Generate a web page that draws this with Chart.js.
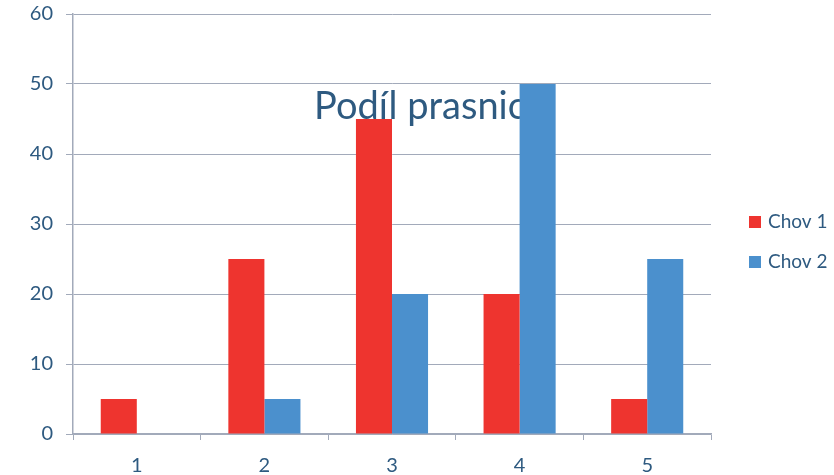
<!DOCTYPE html>
<html>
<head>
<meta charset="utf-8">
<script src="https://cdn.jsdelivr.net/npm/chart.js@4"></script>
<style>
html,body{margin:0;padding:0;background:#fff;}
#wrap{width:834px;height:475px;position:relative;}
</style>
</head>
<body>
<div id="wrap"><canvas id="c" width="834" height="475"></canvas></div>
<script>
const categories = ['1', '2', '3', '4', '5'];
const chov1 = [5, 25, 45, 20, 5];
const chov2 = [0, 5, 20, 50, 25];
const seriesNames = ['Chov 1', 'Chov 2'];
const titleText = 'Podíl prasnic';

const TEXT = '#2E5A80';
const GRID = '#A2AABA';
const RED = '#EE342F';
const BLUE = '#4B90CD';
const FONT = 'Lato';

const bgTitle = {
  id: 'bgTitle',
  beforeDatasetsDraw(chart) {
    const ctx = chart.ctx;
    ctx.save();
    ctx.font = '38px ' + FONT;
    ctx.fillStyle = TEXT;
    ctx.textAlign = 'center';
    ctx.textBaseline = 'middle';
    ctx.fillText(titleText, 420, 107);
    ctx.restore();
  }
};

const sideLegend = {
  id: 'sideLegend',
  afterDraw(chart) {
    const ctx = chart.ctx;
    ctx.save();
    ctx.font = '19px ' + FONT;
    ctx.textBaseline = 'middle';
    ctx.textAlign = 'left';
    chart.data.datasets.forEach((ds, i) => {
      const cy = 222 + i * 40;
      ctx.fillStyle = ds.backgroundColor;
      ctx.fillRect(749, cy - 6, 12, 12);
      ctx.fillStyle = TEXT;
      ctx.fillText(ds.label, 768, cy);
    });
    ctx.restore();
  }
};

new Chart(document.getElementById('c'), {
  type: 'bar',
  data: {
    labels: categories,
    datasets: [
      { label: seriesNames[0], data: chov1, backgroundColor: RED },
      { label: seriesNames[1], data: chov2, backgroundColor: BLUE }
    ]
  },
  options: {
    responsive: false,
    animation: false,
    devicePixelRatio: 1,
    layout: { padding: { left: 0, top: 14, right: 123, bottom: 0 } },
    datasets: { bar: { categoryPercentage: 0.565, barPercentage: 1.0 } },
    plugins: { legend: { display: false }, title: { display: false }, tooltip: { enabled: false } },
    scales: {
      x: {
        offset: true,
        grid: { offset: true, drawOnChartArea: false, drawTicks: true, tickLength: 6, color: GRID, lineWidth: 1 },
        border: { color: GRID, width: 1.5 },
        ticks: { color: TEXT, font: { family: FONT, size: 20 }, padding: 14 },
        afterFit(s) { s.height = 41; s.paddingLeft = 0; s.paddingRight = 0; }
      },
      y: {
        min: 0, max: 60,
        ticks: { stepSize: 10, color: TEXT, font: { family: FONT, size: 20 }, padding: 13 },
        grid: { color: GRID, lineWidth: 1, tickLength: 7 },
        border: { color: GRID, width: 1.5 },
        afterFit(s) { s.width = 73; s.paddingTop = 0; s.paddingBottom = 0; }
      }
    }
  },
  plugins: [bgTitle, sideLegend]
});
</script>
</body>
</html>
